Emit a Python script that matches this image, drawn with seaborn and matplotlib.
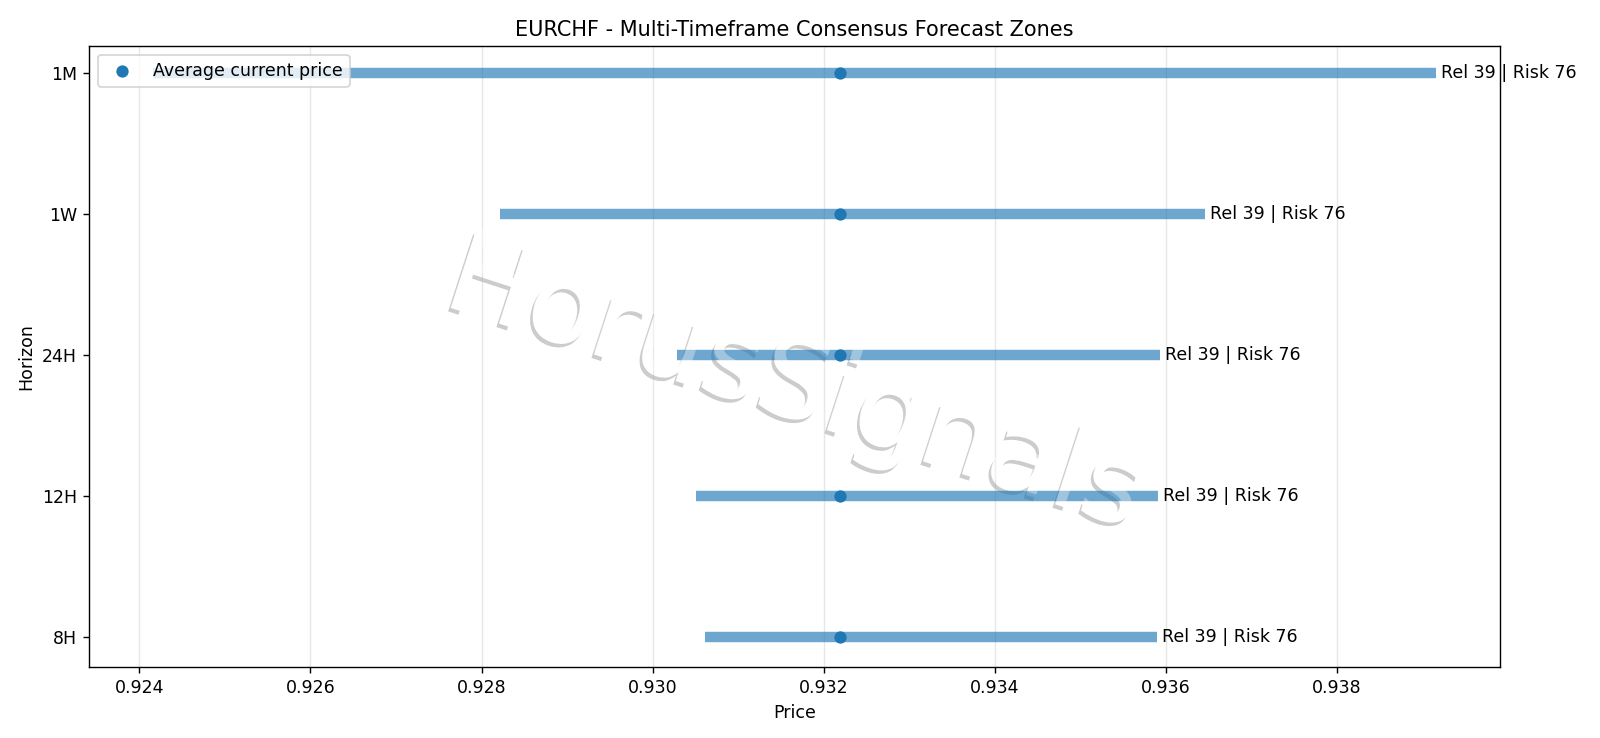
import numpy as np
import matplotlib
matplotlib.use("Agg")
import matplotlib.pyplot as plt
import matplotlib.patheffects as pe
import seaborn as sns

symbol = "EURCHF"
horizons = ["8H", "12H", "24H", "1W", "1M"]
zone_low = [0.93061, 0.93051, 0.93029, 0.92822, 0.92416]
zone_high = [0.93590, 0.93591, 0.93593, 0.93646, 0.93916]
current_price = [0.93219, 0.93219, 0.93219, 0.93219, 0.93219]
reliability = [39, 39, 39, 39, 39]
risk = [76, 76, 76, 76, 76]

DPI = 125


def add_watermark(ax, text="HorusSignals"):
    kw = dict(transform=ax.transAxes, fontsize=64, rotation=-18,
              ha="center", va="center", color="white")
    # ombre + remplissage blanc sous les barres
    ax.text(0.5, 0.45, text, zorder=0.2, path_effects=[
        pe.SimplePatchShadow(offset=(-1.5, -2), shadow_rgbFace="black", alpha=0.2),
        pe.Normal(),
    ], **kw)
    # voile blanc au-dessus des barres
    ax.text(0.5, 0.45, text, zorder=4, alpha=0.35, **kw)


def plot_forecast_zones():
    fig = plt.figure(figsize=(1600 / DPI, 738 / DPI), dpi=DPI)
    ax = fig.add_axes([89 / 1600, 1 - 667 / 738, (1500 - 89) / 1600, (667 - 46) / 738])
    y_pos = np.arange(len(horizons))

    # zones de prévision
    ax.hlines(y_pos, zone_low, zone_high, color="#1f77b4", alpha=0.65,
              linewidth=6, zorder=2)
    sns.scatterplot(
        x=current_price, y=y_pos, ax=ax, s=50, color="#1f77b4",
        linewidth=0, zorder=3, label="Average current price",
    )

    for y, hi, rel, rk in zip(y_pos, zone_high, reliability, risk):
        ax.annotate(
            f"Rel {rel} | Risk {rk}", xy=(hi, y), xytext=(3, 0),
            textcoords="offset points", va="center", ha="left", fontsize=10,
            annotation_clip=False,
        )

    add_watermark(ax)

    ax.set_yticks(y_pos)
    ax.set_yticklabels(horizons)
    ax.set_ylim(-0.21, 4.19)
    ax.grid(axis="x", alpha=0.3)
    ax.set_axisbelow(True)
    ax.set_title(f"{symbol} - Multi-Timeframe Consensus Forecast Zones")
    ax.set_xlabel("Price")
    ax.set_ylabel("Horizon")
    ax.legend(loc="upper left")
    fig.savefig("out.png", dpi=DPI)
    plt.close(fig)


plot_forecast_zones()
